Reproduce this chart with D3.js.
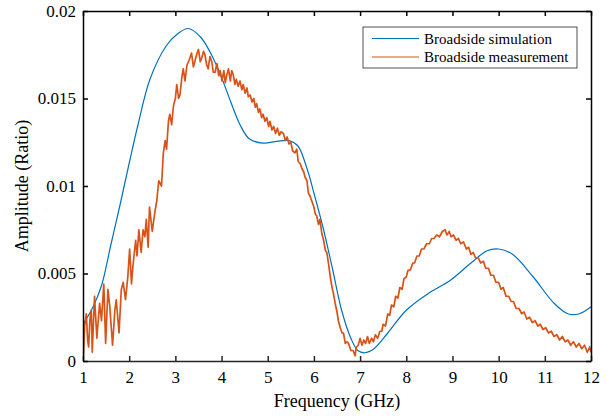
<!DOCTYPE html>
<html>
<head>
<meta charset="utf-8">
<script src="https://cdn.jsdelivr.net/npm/d3@7"></script>
<style>
  body { margin: 0; background: #fff; font-family: 'Liberation Serif'; }
  svg { display: block; }
</style>
</head>
<body>
<svg id="chart" width="613" height="417" font-family="Liberation Serif"></svg>
<script>
// Tick values
var xTicks = [1, 2, 3, 4, 5, 6, 7, 8, 9, 10, 11, 12];
var yTicks = [0, 0.005, 0.01, 0.015, 0.02];
var yTickLabels = ['0', '0.005', '0.01', '0.015', '0.02'];

// Broadside simulation (GHz, amplitude)
var simFreq = [1, 1.2, 1.4, 1.6, 1.8, 2.0, 2.2, 2.45, 2.8, 3.05, 3.28, 3.55, 3.8, 4.0, 4.2, 4.4, 4.6, 4.9, 5.2, 5.45, 5.65, 5.85, 6.0, 6.2, 6.4, 6.6, 6.8, 6.95, 7.1, 7.3, 7.6, 8.0, 8.5, 8.95, 9.4, 9.75, 10.0, 10.3, 10.75, 11.2, 11.5, 11.75, 12];
var simAmp = [0.0021, 0.0030, 0.0043, 0.0066, 0.0089, 0.0113, 0.0136, 0.0161, 0.0180, 0.0187, 0.0190, 0.0185, 0.0174, 0.0162, 0.0148, 0.0135, 0.0127, 0.01245, 0.01255, 0.0126, 0.0123, 0.0110, 0.0096, 0.0076, 0.0053, 0.0029, 0.0013, 0.0006, 0.00047, 0.0007, 0.0016, 0.0029, 0.0039, 0.0046, 0.0056, 0.0063, 0.0064, 0.0061, 0.0048, 0.0033, 0.0027, 0.0027, 0.0031];

var measFreq = [1.00, 1.01, 1.036, 1.072, 1.10, 1.123, 1.15, 1.18, 1.20, 1.25, 1.30, 1.36, 1.40, 1.45, 1.49, 1.54, 1.58, 1.64, 1.69, 1.72, 1.78, 1.83, 1.87, 1.92, 1.97, 2.01, 2.05, 2.08, 2.14, 2.17, 2.21, 2.26, 2.30, 2.34, 2.37, 2.41, 2.44, 2.50, 2.55, 2.60,
  2.64, 2.70, 2.74, 2.78, 2.81, 2.85, 2.88, 2.92, 2.96, 3.00, 3.03, 3.07, 3.10, 3.14, 3.17, 3.21, 3.25, 3.30, 3.35, 3.39, 3.43, 3.47, 3.50, 3.54, 3.57, 3.61, 3.64, 3.68, 3.71, 3.75, 3.79, 3.82, 3.86, 3.90, 3.94, 3.97,
  4.01, 4.05, 4.08, 4.11, 4.15, 4.19, 4.22, 4.25, 4.29, 4.32, 4.36, 4.40, 4.44, 4.47, 4.51, 4.55, 4.58, 4.62, 4.66, 4.70, 4.73, 4.76, 4.80, 4.83, 4.87, 4.90, 4.94, 4.98,
  5.02, 5.05, 5.09, 5.13, 5.17, 5.21, 5.25, 5.29, 5.34, 5.38, 5.42, 5.46, 5.50, 5.54, 5.59, 5.63, 5.66, 5.70, 5.74, 5.78, 5.81, 5.85, 5.88, 5.92, 5.96,
  6.00, 6.03, 6.06, 6.10, 6.13, 6.17, 6.21, 6.25, 6.28, 6.32, 6.36, 6.40, 6.42, 6.46, 6.50, 6.53, 6.57, 6.61, 6.64, 6.68, 6.72, 6.75, 6.80, 6.85, 6.89, 6.92, 6.96,
  7.00, 7.04, 7.08, 7.12, 7.16, 7.20, 7.25, 7.29, 7.33, 7.38, 7.43, 7.47, 7.50, 7.55, 7.60, 7.64, 7.68, 7.73, 7.77, 7.82, 7.86, 7.91, 7.95,
  8.00, 8.04, 8.09, 8.14, 8.18, 8.23, 8.28, 8.33, 8.38, 8.44, 8.50, 8.55, 8.60, 8.66, 8.72, 8.78, 8.84, 8.88, 8.93, 8.97,
  9.02, 9.08, 9.13, 9.18, 9.24, 9.30, 9.35, 9.40, 9.45, 9.50, 9.56, 9.61, 9.67, 9.72, 9.78, 9.83, 9.89, 9.94,
  10.00, 10.05, 10.10, 10.16, 10.22, 10.27, 10.32, 10.38, 10.44, 10.50, 10.55, 10.61, 10.67, 10.73, 10.79, 10.85, 10.90, 10.96,
  11.02, 11.08, 11.14, 11.20, 11.26, 11.32, 11.38, 11.44, 11.50, 11.56, 11.62, 11.68, 11.74, 11.80, 11.86, 11.92, 11.97, 12.0];
var measAmp = [0.0022, 0.0003, 0.0020, 0.0027, 0.0012, 0.0008, 0.0024, 0.0029, 0.0005, 0.0037, 0.0013, 0.0033, 0.0023, 0.0044, 0.0010, 0.0041, 0.0031, 0.0009, 0.0029, 0.0035, 0.0016, 0.0041, 0.0045, 0.0035, 0.0048, 0.0064, 0.0044, 0.0054, 0.0069, 0.0060, 0.0075, 0.0062, 0.0075, 0.0071, 0.0081, 0.0065, 0.0088, 0.0074, 0.0084, 0.0092,
  0.0103, 0.0100, 0.0119, 0.0126, 0.0121, 0.0137, 0.0141, 0.0135, 0.0146, 0.0150, 0.0158, 0.0150, 0.0152, 0.0162, 0.0167, 0.0160, 0.0169, 0.0172, 0.0176, 0.0168, 0.0172, 0.0176, 0.0178, 0.0171, 0.0173, 0.0177, 0.0175, 0.0169, 0.0167, 0.0174, 0.0171, 0.0165, 0.0165, 0.0170, 0.0163, 0.0166,
  0.0160, 0.0166, 0.0159, 0.0163, 0.0167, 0.0160, 0.0166, 0.0164, 0.0158, 0.0161, 0.0157, 0.0160, 0.0155, 0.0158, 0.0153, 0.0156, 0.0151, 0.0152, 0.0148, 0.0150, 0.0145, 0.0147, 0.0142, 0.0144, 0.0139, 0.0141, 0.0137, 0.0139,
  0.0134, 0.0137, 0.0132, 0.0134, 0.0130, 0.0133, 0.0129, 0.0131, 0.0130, 0.0126, 0.0128, 0.0124, 0.0125, 0.0120, 0.0119, 0.0121, 0.0114, 0.0113, 0.0110, 0.0108, 0.0105, 0.0103, 0.0096, 0.0094, 0.0091,
  0.0088, 0.0084, 0.0083, 0.0078, 0.0081, 0.0073, 0.0069, 0.0063, 0.0062, 0.0055, 0.0047, 0.0041, 0.0039, 0.0033, 0.0028, 0.0023, 0.0019, 0.0016, 0.0016, 0.0010, 0.0011, 0.0010, 0.0006, 0.0006, 0.0003, 0.0008, 0.0009,
  0.0013, 0.0009, 0.0012, 0.0010, 0.0014, 0.0010, 0.0013, 0.0011, 0.0015, 0.0013, 0.0017, 0.0017, 0.0021, 0.0020, 0.0027, 0.0026, 0.0032, 0.0031, 0.0037, 0.0036, 0.0042, 0.0041, 0.0047,
  0.0048, 0.0052, 0.0052, 0.0056, 0.0056, 0.0060, 0.0060, 0.0064, 0.0064, 0.0067, 0.0067, 0.0070, 0.0070, 0.0072, 0.0071, 0.0074, 0.0075, 0.0072, 0.0074, 0.0071,
  0.0072, 0.0069, 0.0070, 0.0067, 0.0068, 0.0064, 0.0065, 0.0061, 0.0062, 0.0059, 0.0059, 0.0056, 0.0057, 0.0053, 0.0053, 0.0049, 0.0049, 0.0045,
  0.0045, 0.0041, 0.0042, 0.0037, 0.0037, 0.0034, 0.0034, 0.0030, 0.0030, 0.0027, 0.0028, 0.0024, 0.0025, 0.0022, 0.0023, 0.0020, 0.0021, 0.0018,
  0.0019, 0.0016, 0.0017, 0.0014, 0.0015, 0.0012, 0.0014, 0.0011, 0.0012, 0.0009, 0.0011, 0.0008, 0.0010, 0.0007, 0.0009, 0.0005, 0.0008, 0.0005];

var seriesNames = ['Broadside simulation', 'Broadside measurement'];
var seriesColors = ['#0072BD', '#D95319'];

var fontName = 'Liberation Serif';

var margin = { top: 11, right: 22, bottom: 56, left: 83 };
var width = 613, height = 417;

var svg = d3.select('#chart');

var x = d3.scaleLinear().domain([1, 12]).range([margin.left, width - margin.right]);
var y = d3.scaleLinear().domain([0, 0.02]).range([height - margin.bottom, margin.top]);

var simData = simFreq.map(function(f, i) { return [f, simAmp[i]]; });
var measData = measFreq.map(function(f, i) { return [f, measAmp[i]]; });

// Clip lines to the plot box
svg.append('clipPath').attr('id', 'clip')
  .append('rect')
  .attr('x', margin.left).attr('y', margin.top)
  .attr('width', width - margin.left - margin.right)
  .attr('height', height - margin.top - margin.bottom);

var simLine = d3.line()
  .x(function(d) { return x(d[0]); })
  .y(function(d) { return y(d[1]); })
  .curve(d3.curveCatmullRom.alpha(0.5));

var measLine = d3.line()
  .x(function(d) { return x(d[0]); })
  .y(function(d) { return y(d[1]); });

var plot = svg.append('g').attr('clip-path', 'url(#clip)');

plot.append('path')
  .datum(simData)
  .attr('d', simLine)
  .attr('fill', 'none')
  .attr('stroke', seriesColors[0])
  .attr('stroke-width', 1.2);

plot.append('path')
  .datum(measData)
  .attr('d', measLine)
  .attr('fill', 'none')
  .attr('stroke', seriesColors[1])
  .attr('stroke-width', 1.7)
  .attr('stroke-linejoin', 'round');

// Axes: ticks point inward on all four sides
function styleAxis(g, color) {
  g.attr('font-family', fontName).attr('font-size', 17);
  g.selectAll('.domain').attr('stroke', color).attr('stroke-width', 1.5);
  g.selectAll('.tick line').attr('stroke', color).attr('stroke-width', 1.5);
  g.selectAll('.tick text').attr('fill', '#000');
}

var xAxis = svg.append('g')
  .attr('transform', 'translate(0,' + (height - margin.bottom) + ')')
  .call(d3.axisBottom(x).tickValues(xTicks).tickSize(-5).tickSizeOuter(0).tickPadding(10).tickFormat(d3.format('d')));
styleAxis(xAxis, '#262626');

var xAxisTop = svg.append('g')
  .attr('transform', 'translate(0,' + margin.top + ')')
  .call(d3.axisTop(x).tickValues(xTicks).tickSize(-5).tickSizeOuter(0).tickFormat(''));
styleAxis(xAxisTop, '#000');

var yAxis = svg.append('g')
  .attr('transform', 'translate(' + margin.left + ',0)')
  .call(d3.axisLeft(y).tickValues(yTicks).tickSize(-5).tickSizeOuter(0).tickPadding(7)
    .tickFormat(function(d, i) { return yTickLabels[i]; }));
styleAxis(yAxis, '#000');

var yAxisRight = svg.append('g')
  .attr('transform', 'translate(' + (width - margin.right) + ',0)')
  .call(d3.axisRight(y).tickValues(yTicks).tickSize(-5).tickSizeOuter(0).tickFormat(''));
styleAxis(yAxisRight, '#000');

// Axis titles
svg.append('text')
  .attr('x', (margin.left + width - margin.right) / 2)
  .attr('y', 407)
  .attr('text-anchor', 'middle')
  .attr('font-family', fontName)
  .attr('font-size', 18)
  .text('Frequency (GHz)');

svg.append('text')
  .attr('transform', 'translate(28,' + ((margin.top + height - margin.bottom) / 2) + ') rotate(-90)')
  .attr('text-anchor', 'middle')
  .attr('font-family', fontName)
  .attr('font-size', 18)
  .text('Amplitude (Ratio)');

// Legend
var legend = svg.append('g').attr('transform', 'translate(363,27)');
legend.append('rect')
  .attr('width', 214).attr('height', 41)
  .attr('fill', '#fff')
  .attr('stroke', '#262626')
  .attr('stroke-width', 0.8);

seriesNames.forEach(function(name, i) {
  var row = legend.append('g').attr('transform', 'translate(0,' + (11.5 + i * 18.5) + ')');
  row.append('line')
    .attr('x1', 9).attr('x2', 56)
    .attr('stroke', seriesColors[i])
    .attr('stroke-width', 1.2);
  row.append('text')
    .attr('x', 61).attr('y', 5)
    .attr('font-family', fontName)
    .attr('font-size', 15)
    .text(name);
});
</script>
</body>
</html>
